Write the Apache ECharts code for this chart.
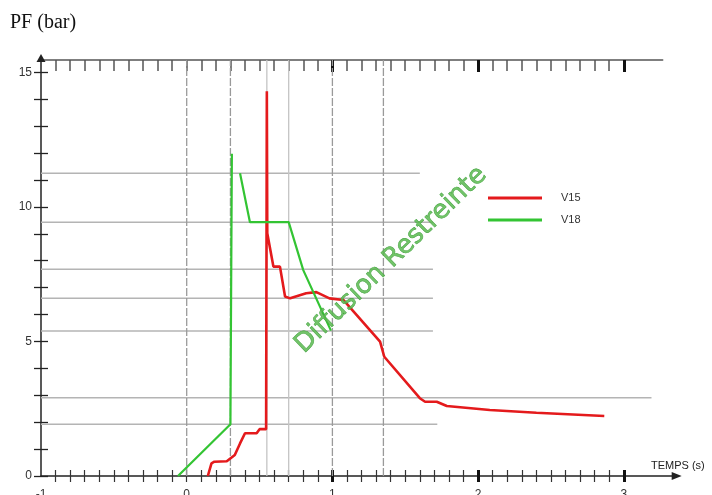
<!DOCTYPE html>
<html><head><meta charset="utf-8">
<script src="https://cdn.jsdelivr.net/npm/echarts@6/dist/echarts.min.js"></script>
<style>html,body{margin:0;padding:0;background:#fff}#c{width:712px;height:495px}</style>
</head><body><div id="c"></div>
<script>
// ---- data ----
const v15X = [0.145, 0.17, 0.19, 0.275, 0.33, 0.366, 0.40, 0.48, 0.50, 0.545, 0.55, 0.553, 0.595, 0.64, 0.675, 0.71, 0.82, 0.89, 0.98, 1.075, 1.327, 1.356, 1.60, 1.636, 1.716, 1.785, 2.08, 2.40, 2.866];
const v15Y = [0.0, 0.47, 0.53, 0.55, 0.78, 1.21, 1.59, 1.59, 1.74, 1.74, 14.29, 9.02, 7.78, 7.78, 6.67, 6.60, 6.79, 6.83, 6.60, 6.54, 4.99, 4.43, 2.89, 2.76, 2.76, 2.60, 2.45, 2.35, 2.23];
const v18X = [-0.06, 0.30, 0.31, 0.31, 0.335, 0.366, 0.434, 0.70, 0.80, 0.99];
const v18Y = [0.0, 1.92, 1.92, 11.97, null, 11.25, 9.43, 9.43, 7.65, 5.40];

const yLabelValues = [0, 5, 10, 15];
const yTickValues = [0, 1, 2, 3, 4, 5, 6, 7, 8, 9, 10, 11, 12, 13, 14, 15];
const xLabelValues = [-1, 0, 1, 2, 3];
const xMajorTicks = [1, 2, 3];
const xMinorTicks = [];
for (let i = -9; i <= 30; i++) xMinorTicks.push(i / 10);

// reference grid lines
const hGridY   = [11.25, 9.43, 7.68, 6.60, 5.39, 2.91, 1.92];
const hGridEnd = [1.60, 1.69, 1.69, 1.69, 1.69, 3.19, 1.72];
const vGridX      = [0, 0.30, 0.55, 0.70, 1.00, 1.35];
const vGridDashed = [true, true, false, false, true, true];
const gridTopY = 15.46;

// ---- chart ----
const chart = echarts.init(document.getElementById('c'));
const FONT = 'Liberation Sans, Arial, sans-serif';
const X_MAX0 = 3.363, Y_MAX0 = 15.53, X_MAX1 = 3.267;

function pairs(xs, ys) { return xs.map((x, i) => ys[i] == null ? [x, '-'] : [x, ys[i]]); }

const series = [];
hGridY.forEach((y, i) => series.push({
  type: 'line', xAxisIndex: 0, yAxisIndex: 0, silent: true, symbol: 'none', z: 1,
  data: [[-1, y], [hGridEnd[i], y]],
  lineStyle: { color: '#b4b4b4', width: 1.5 }
}));
vGridX.forEach((x, i) => series.push({
  type: 'line', xAxisIndex: 0, yAxisIndex: 0, silent: true, symbol: 'none', z: 1,
  data: [[x, 0], [x, gridTopY]],
  lineStyle: { color: vGridDashed[i] ? '#9a9a9a' : '#c4c4c4', width: 1.3, type: vGridDashed[i] ? [8, 2] : 'solid' }
}));
series.push({
  name: 'V15', type: 'line', xAxisIndex: 0, yAxisIndex: 0, symbol: 'none', z: 3,
  data: pairs(v15X, v15Y), color: '#e41a1c',
  lineStyle: { color: '#e41a1c', width: 2.6 }
});
series.push({
  name: 'V18', type: 'line', xAxisIndex: 0, yAxisIndex: 0, symbol: 'none', z: 4, connectNulls: false,
  data: pairs(v18X, v18Y), color: '#33c433',
  lineStyle: { color: '#33c433', width: 2.2 }
});

const option = {
  animation: false,
  backgroundColor: '#fff',
  grid: [
    { left: 41, right: 712 - 676.7, top: 58, bottom: 19, outerBoundsMode: 'none', containLabel: false },
    { left: 41, right: 712 - 662.7, top: 60, height: 20, outerBoundsMode: 'none', containLabel: false }
  ],
  legend: {
    data: [{ name: 'V15', icon: 'rect' }, { name: 'V18', icon: 'rect' }],
    orient: 'vertical', left: 483, top: 186, itemWidth: 54, itemHeight: 3, itemGap: 8,
    textStyle: { fontSize: 11, color: '#333', fontFamily: FONT, lineHeight: 14, padding: [0, 0, 0, 14] }
  },
  xAxis: [
    { type: 'value', gridIndex: 0, position: 'bottom', min: -1, max: X_MAX0,
      axisLine: { show: true, onZero: false, symbol: ['none', 'triangle'], symbolSize: [8, 10], lineStyle: { color: '#222', width: 1.5 } },
      axisTick: { show: true, inside: false, length: 6, customValues: xMinorTicks, lineStyle: { color: '#333', width: 1.2 } },
      axisLabel: { show: true, customValues: xLabelValues, margin: 13, fontSize: 12, color: '#333', fontFamily: FONT },
      splitLine: { show: false } },
    { type: 'value', gridIndex: 0, position: 'bottom', min: -1, max: X_MAX0,
      axisLine: { show: false, onZero: false },
      axisTick: { show: true, inside: true, length: 6, customValues: xMinorTicks, lineStyle: { color: '#333', width: 1.2 } },
      axisLabel: { show: false }, splitLine: { show: false } },
    { type: 'value', gridIndex: 0, position: 'bottom', min: -1, max: X_MAX0,
      axisLine: { show: false, onZero: false },
      axisTick: { show: true, inside: false, length: 6, customValues: xMajorTicks, lineStyle: { color: '#111', width: 3 } },
      axisLabel: { show: false }, splitLine: { show: false } },
    { type: 'value', gridIndex: 0, position: 'bottom', min: -1, max: X_MAX0,
      axisLine: { show: false, onZero: false },
      axisTick: { show: true, inside: true, length: 6, customValues: xMajorTicks, lineStyle: { color: '#111', width: 3 } },
      axisLabel: { show: false }, splitLine: { show: false } },
    { type: 'value', gridIndex: 1, position: 'top', min: -1, max: X_MAX1,
      axisLine: { show: true, onZero: false, lineStyle: { color: '#555', width: 1.5 } },
      axisTick: { show: true, inside: true, length: 11, customValues: xMinorTicks, lineStyle: { color: '#555', width: 1.5 } },
      axisLabel: { show: false }, splitLine: { show: false } },
    { type: 'value', gridIndex: 1, position: 'top', min: -1, max: X_MAX1,
      axisLine: { show: false, onZero: false },
      axisTick: { show: true, inside: true, length: 12, customValues: xMajorTicks, lineStyle: { color: '#111', width: 3 } },
      axisLabel: { show: false }, splitLine: { show: false } }
  ],
  yAxis: [
    { type: 'value', gridIndex: 0, position: 'left', min: 0, max: Y_MAX0,
      axisLine: { show: true, onZero: false, symbol: ['none', 'triangle'], symbolSize: [9, 8], lineStyle: { color: '#222', width: 1.5 } },
      axisTick: { show: true, inside: false, length: 7, customValues: yTickValues, lineStyle: { color: '#222', width: 1.3 } },
      axisLabel: { show: true, customValues: yLabelValues, margin: 9, fontSize: 12, color: '#333', fontFamily: FONT },
      splitLine: { show: false } },
    { type: 'value', gridIndex: 0, position: 'left', min: 0, max: Y_MAX0,
      axisLine: { show: false, onZero: false },
      axisTick: { show: true, inside: true, length: 7, customValues: yTickValues, lineStyle: { color: '#222', width: 1.3 } },
      axisLabel: { show: false }, splitLine: { show: false } },
    { type: 'value', gridIndex: 1, min: 0, max: 1, show: false }
  ],
  graphic: [
    { type: 'text', left: 10, top: 13, style: { text: 'PF (bar)', font: '20px "Liberation Serif", "Times New Roman", serif', fill: '#111' } },
    { type: 'text', left: 651, top: 460, style: { text: 'TEMPS (s)', font: '11px ' + FONT, fill: '#222' } },
    { type: 'text', x: 391, y: 260, rotation: 0.77, z: 100,
      style: { text: 'Diffusion Restreinte', font: '26px "DejaVu Sans", sans-serif', fill: 'rgba(90,185,80,0.85)', stroke: '#3a9a3a', lineWidth: 0.6, align: 'center', verticalAlign: 'middle' } }
  ],
  series: series
};
chart.setOption(option);
</script>
</body></html>
